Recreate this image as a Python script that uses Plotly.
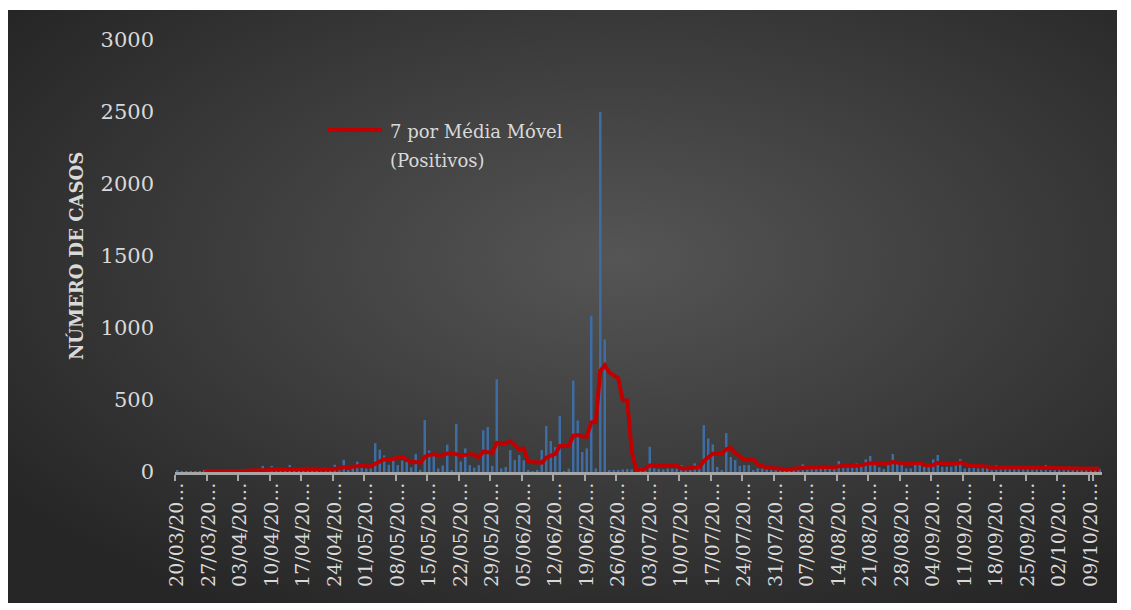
import base64
import pandas as pd
import plotly.graph_objects as go

# daily positive cases, 20/03/2020 onwards
start_date = "2020-03-20"
positivos = [
    10, 2, 5, 3, 4, 6, 8, 5, 6, 4,
    8, 7, 10, 6, 12, 8, 10, 12, 9, 42,
    10, 42, 12, 12, 10, 49, 22, 18, 20, 15,
    18, 12, 15, 20, 30, 50, 20, 85, 14, 30,
    72, 30, 25, 25, 200, 155, 115, 50, 82, 48,
    80, 70, 32, 125, 15, 360, 150, 110, 25, 45,
    190, 14, 335, 72, 164, 48, 30, 48, 290, 312,
    42, 645, 25, 35, 152, 83, 118, 81, 7, 5,
    10, 152, 320, 215, 173, 390, 5, 23, 635, 358,
    139, 164, 1085, 25, 2500, 920, 7, 7, 10, 18,
    20, 18, 25, 30, 30, 175, 25, 20, 18, 23,
    23, 23, 48, 20, 25, 60, 30, 326, 233, 192,
    35, 14, 270, 104, 83, 42, 48, 48, 12, 25,
    23, 20, 18, 22, 15, 20, 30, 25, 35, 53,
    30, 35, 25, 40, 35, 30, 35, 76, 35, 30,
    40, 60, 60, 88, 111, 48, 32, 21, 60, 125,
    65, 60, 25, 25, 72, 60, 37, 37, 88, 118,
    37, 37, 37, 48, 90, 25, 30, 30, 25, 35,
    30, 25, 46, 30, 28, 25, 30, 25, 30, 28,
    25, 30, 22, 48, 25, 20, 25, 22, 20, 25,
    18, 20, 32, 20, 18, 20,
]
y_ticks = [0, 500, 1000, 1500, 2000, 2500, 3000]
legend_lines = ["7 por Média Móvel", "(Positivos)"]

dates = pd.date_range(start_date, periods=len(positivos), freq="D")
cats = [d.strftime("%d/%m/%Y") for d in dates]
tick_vals = cats[::7]
tick_text = [d.strftime("%d/%m/20") + "\u2026" for d in dates[::7]]
media_movel = pd.Series(positivos).rolling(7).mean()

# plot area in figure pixels (page adds 8px body margin)
L, R, T, B = 167, 1094, 32, 464
W, H = 1131, 610
pw, ph = R - L, B - T


def px(x):
    return (x - L) / pw


def py(y):
    return (B - y) / ph


svg = (
    '<svg xmlns="http://www.w3.org/2000/svg" width="1110" height="593">'
    '<defs><radialGradient id="g" cx="55%" cy="42%" r="68%">'
    '<stop offset="0" stop-color="#555555"/>'
    '<stop offset="1" stop-color="#262626"/>'
    "</radialGradient></defs>"
    '<rect width="1110" height="593" fill="url(#g)"/></svg>'
)
bg_src = "data:image/svg+xml;base64," + base64.b64encode(svg.encode()).decode()

fig = go.Figure()
fig.add_trace(
    go.Bar(
        x=cats,
        y=positivos,
        name="Positivos",
        marker=dict(color="#3f6da3", line=dict(width=0)),
        showlegend=False,
    )
)
fig.add_trace(
    go.Scatter(
        x=cats,
        y=media_movel,
        mode="lines",
        name="7 por Média Móvel (Positivos)",
        line=dict(color="#c00000", width=4),
        showlegend=False,
    )
)

fig.add_layout_image(
    dict(
        source=bg_src,
        xref="paper",
        yref="paper",
        x=px(-1),
        y=py(2),
        sizex=1110 / pw,
        sizey=593 / ph,
        sizing="stretch",
        xanchor="left",
        yanchor="top",
        layer="below",
    )
)

# legend drawn by hand so the sample line matches the original length
fig.add_shape(
    type="line",
    xref="paper",
    yref="paper",
    x0=px(320),
    x1=px(374),
    y0=py(122),
    y1=py(122),
    line=dict(color="#c00000", width=4),
)
for i, txt in enumerate(legend_lines):
    fig.add_annotation(
        text=txt,
        xref="paper",
        yref="paper",
        x=px(380),
        y=py(123 + 29 * i),
        xanchor="left",
        yanchor="middle",
        showarrow=False,
        font=dict(size=18, color="#d9d9d9"),
    )

fig.update_layout(
    width=W,
    height=H,
    margin=dict(l=L, r=W - R, t=T, b=H - B),
    paper_bgcolor="white",
    plot_bgcolor="rgba(0,0,0,0)",
    bargap=0.45,
    showlegend=False,
    font=dict(family="DejaVu Serif", color="#d9d9d9"),
    xaxis=dict(
        type="category",
        tickmode="array",
        tickvals=tick_vals,
        ticktext=tick_text,
        tickson="boundaries",
        tickangle=-90,
        ticks="outside",
        ticklen=6,
        tickwidth=2,
        tickcolor="#a6a6a6",
        showline=True,
        linecolor="#a6a6a6",
        linewidth=3,
        showgrid=False,
        tickfont=dict(size=19, color="#d9d9d9"),
    ),
    yaxis=dict(
        range=[0, 3000],
        tickvals=y_ticks,
        showgrid=False,
        zeroline=False,
        ticklabelstandoff=20,
        tickfont=dict(size=21, color="#d9d9d9"),
        title=dict(
            text="<b>NÚMERO DE CASOS</b>",
            font=dict(size=18, color="#d9d9d9"),
            standoff=12,
        ),
    ),
)

fig.write_html("out.html")
